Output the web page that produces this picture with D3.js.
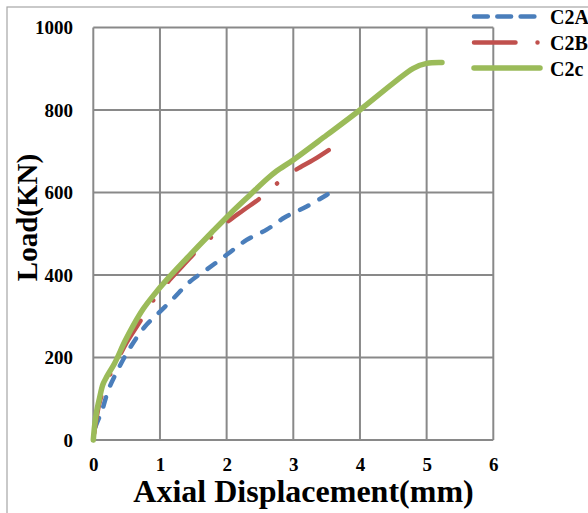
<!DOCTYPE html>
<html>
<head>
<meta charset="utf-8">
<script src="https://cdn.jsdelivr.net/npm/d3@7"></script>
<style>
  html, body { margin: 0; padding: 0; background: #fff; }
  svg { display: block; }
  svg text { font-family: "Liberation Serif", Tinos, "Times New Roman", Times, serif !important; font-weight: bold; fill: #000; }
</style>
</head>
<body>
<svg id="chart" width="588" height="513"></svg>
<script>
// ---- data ----
const seriesNames = ["C2A", "C2B", "C2c"];
const xTicks = [0, 1, 2, 3, 4, 5, 6];
const yTicks = [0, 200, 400, 600, 800, 1000];

const c2aX = [0, 0.03, 0.13, 0.23, 0.38, 0.545, 0.775, 0.975, 1.2, 1.45, 1.725, 2.025, 2.3, 2.6, 2.875, 3.2, 3.5, 3.58];
const c2aY = [0, 30, 71, 123, 174, 222, 275, 307, 343, 384, 416, 452, 485, 510, 540, 566, 594, 602];

const c2bX = [0, 0.04, 0.1, 0.2, 0.35, 0.5, 0.7, 0.875, 1.075, 1.3, 1.5, 1.74, 2.0, 2.25, 2.5, 2.75, 3.03, 3.3, 3.55];
const c2bY = [0, 45, 95, 140, 190, 236, 287, 333, 375, 415, 450, 487, 527, 557, 586, 621, 654, 679, 705];

const c2cX = [0, 0.02, 0.045, 0.095, 0.145, 0.2, 0.32, 0.47, 0.6, 0.75, 0.9, 1.1, 1.4, 1.775, 2.05, 2.35, 2.6, 2.75, 3.0, 3.5, 4.0, 4.5, 4.8, 5.0, 5.23];
const c2cY = [0, 35, 65, 103, 135, 153, 186, 238, 278, 318, 350, 388, 440, 503, 548, 594, 632, 652, 679, 739, 800, 865, 901, 913, 915];

// ---- layout ----
const svg = d3.select("#chart");
const x = d3.scaleLinear().domain([0, 6]).range([93.3, 493.3]);
const y = d3.scaleLinear().domain([0, 1000]).range([440, 27.5]);

// outer frame
svg.append("rect").attr("x", 7).attr("y", 7).attr("width", 700).attr("height", 700)
  .attr("fill", "none").attr("stroke", "#a6a6a6").attr("stroke-width", 1.2);

// grid
const gridColor = "#898989";
svg.append("g").selectAll("line").data(xTicks).join("line")
  .attr("x1", d => x(d)).attr("x2", d => x(d)).attr("y1", y(0)).attr("y2", y(1000))
  .attr("stroke", gridColor).attr("stroke-width", 2);
svg.append("g").selectAll("line").data(yTicks).join("line")
  .attr("x1", x(0)).attr("x2", x(6)).attr("y1", d => y(d)).attr("y2", d => y(d))
  .attr("stroke", gridColor).attr("stroke-width", 2);

// axes (labels only)
const xAxis = d3.axisBottom(x).tickValues(xTicks).tickSize(0).tickPadding(0).tickFormat(d3.format("d"));
const gx = svg.append("g").attr("transform", `translate(0,${y(0)})`).call(xAxis);
gx.select(".domain").remove();
gx.attr("font-family", null).attr("font-size", null);
gx.selectAll("text").style("font-size", "19px").attr("y", 30.5).attr("dy", 0);

const yAxis = d3.axisLeft(y).tickValues(yTicks).tickSize(0).tickPadding(0).tickFormat(d3.format("d"));
const gy = svg.append("g").attr("transform", `translate(73,0)`).call(yAxis);
gy.select(".domain").remove();
gy.attr("font-family", null).attr("font-size", null);
gy.selectAll("text").style("font-size", "19px").attr("x", 0).attr("dy", 6.3);

// titles
svg.append("text").attr("x", 303.5).attr("y", 502).attr("text-anchor", "middle")
  .style("font-size", "32px").text("Axial Displacement(mm)");
svg.append("text").attr("transform", "translate(37,217.5) rotate(-90)").attr("text-anchor", "middle")
  .style("font-size", "29px").text("Load(KN)");

// series
const line = d3.line().x(d => x(d[0])).y(d => y(d[1])).curve(d3.curveCatmullRom.alpha(0.5));
const zip = (a, b) => a.map((v, i) => [v, b[i]]);

function lengthNear(path, px, py) {
  const total = path.getTotalLength();
  let best = 0, bd = Infinity;
  for (let s = 0; s <= total; s += 0.5) {
    const p = path.getPointAtLength(s);
    const dd = (p.x - px) ** 2 + (p.y - py) ** 2;
    if (dd < bd) { bd = dd; best = s; }
  }
  return best;
}

const series = [
  { name: seriesNames[0], data: zip(c2aX, c2aY), color: "#4A7EBB", width: 4.5, dash: [9.5, 12.5], anchor: [2.3, 485], anchorShift: -4.75 },
  { name: seriesNames[1], data: zip(c2bX, c2bY), color: "#C0504D", width: 4.5, dash: [37.5, 24, 0.01, 24], anchor: [2.0, 527], anchorShift: 2.25 },
  { name: seriesNames[2], data: zip(c2cX, c2cY), color: "#9BBB59", width: 5.5, dash: null }
];

series.forEach(s => {
  const p = svg.append("path").attr("d", line(s.data)).attr("fill", "none")
    .attr("stroke", s.color).attr("stroke-width", s.width)
    .attr("stroke-linecap", "round").attr("stroke-linejoin", "round");
  if (s.dash) {
    const period = d3.sum(s.dash);
    const L0 = lengthNear(p.node(), x(s.anchor[0]), y(s.anchor[1])) + s.anchorShift;
    const off = period - (((L0 % period) + period) % period);
    p.attr("stroke-dasharray", s.dash.join(" ")).attr("stroke-dashoffset", off);
  }
});

// legend
const legendY = [16.5, 42.5, 68];
const legendDash = [[13.8, 9.5], [41.5, 22, 0.01, 40], null];
const legendEnd = [534.5, 537.7, 540];
const lg = svg.append("g");
series.forEach((s, i) => {
  const l = lg.append("line").attr("x1", 474).attr("x2", legendEnd[i])
    .attr("y1", legendY[i]).attr("y2", legendY[i])
    .attr("stroke", s.color).attr("stroke-width", s.width).attr("stroke-linecap", "round");
  if (legendDash[i]) l.attr("stroke-dasharray", legendDash[i].join(" "));
  lg.append("text").attr("x", 550).attr("y", legendY[i] + 7.5).style("font-size", "20px").text(s.name);
});
</script>
</body>
</html>
